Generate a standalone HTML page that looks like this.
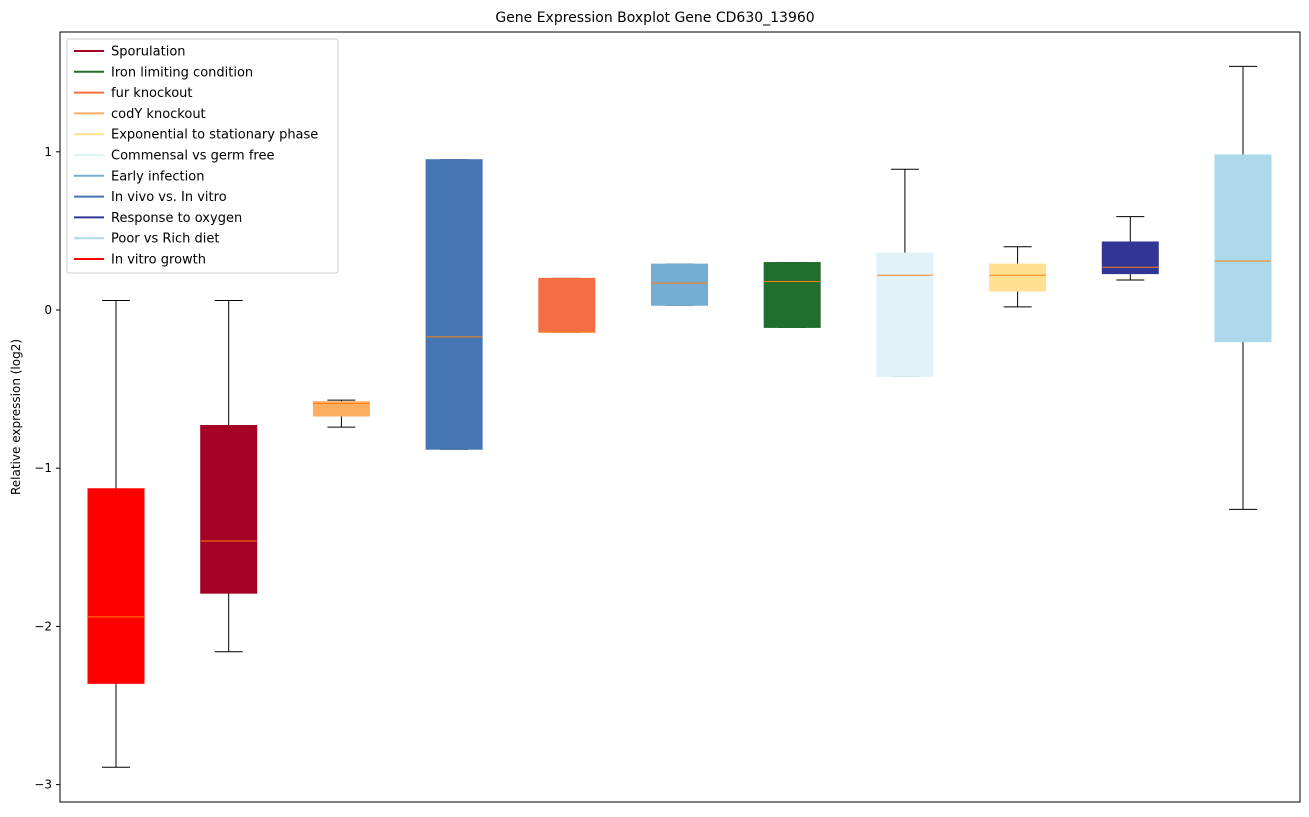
<!DOCTYPE html>
<html><head><meta charset="utf-8"><style>
body{margin:0;background:#fff;font-family:"Liberation Sans","DejaVu Sans",sans-serif}
svg text{font-family:"DejaVu Sans","Liberation Sans",sans-serif}
</style></head><body>
<svg id="c" width="1309" height="812" xmlns="http://www.w3.org/2000/svg"></svg>
<script>
const categories=["In vitro growth","Sporulation","codY knockout","In vivo vs. In vitro","fur knockout","Early infection","Iron limiting condition","Commensal vs germ free","Exponential to stationary phase","Response to oxygen","Poor vs Rich diet"];
const colors=["#ff0000","#a50026","#fdae61","#4575b4","#f46d43","#74add1","#226e2e","#e0f3f8","#fee090","#313695","#abd9e9"];
const whiskerLow=[-2.89,-2.16,-0.74,-0.88,-0.14,0.03,-0.11,-0.42,0.02,0.19,-1.26];
const q1=[-2.36,-1.79,-0.67,-0.88,-0.14,0.03,-0.11,-0.42,0.12,0.23,-0.20];
const medians=[-1.94,-1.46,-0.59,-0.17,-0.14,0.17,0.18,0.22,0.22,0.27,0.31];
const q3=[-1.13,-0.73,-0.58,0.95,0.20,0.29,0.30,0.36,0.29,0.43,0.98];
const whiskerHigh=[0.06,0.06,-0.57,0.95,0.20,0.29,0.30,0.89,0.40,0.59,1.54];
const yTicks=[1,0,-1,-2,-3];
const legendLabels=["Sporulation","Iron limiting condition","fur knockout","codY knockout","Exponential to stationary phase","Commensal vs germ free","Early infection","In vivo vs. In vitro","Response to oxygen","Poor vs Rich diet","In vitro growth"];
const legendColors=["#a50026","#226e2e","#f46d43","#fdae61","#fee090","#e0f3f8","#74add1","#4575b4","#313695","#abd9e9","#ff0000"];
const NS="http://www.w3.org/2000/svg",svg=document.getElementById('c');
const L=60,R=1300,T=32,B=802;
const y=v=>310-v*158.2;
const x=i=>116+i*112.7;
function mk(t,a,p){const e=document.createElementNS(NS,t);for(const k in a)e.setAttribute(k,a[k]);(p||svg).appendChild(e);return e;}
const t=mk('text',{x:655,y:22,'text-anchor':'middle','font-size':14});t.textContent="Gene Expression Boxplot Gene CD630_13960";

const yl=mk('text',{transform:'translate(20,417) rotate(-90)','text-anchor':'middle','font-size':12});yl.textContent="Relative expression (log2)";

yTicks.forEach(v=>{const g=mk('g',{});
mk('line',{x1:L-4,x2:L,y1:y(v),y2:y(v),stroke:'#000'},g);
const tx=mk('text',{x:L-8,y:y(v)+4,'text-anchor':'end','font-size':12},g);tx.textContent=v<0?'\u2212'+(-v):String(v);});
categories.forEach((c,i)=>{const g=mk('g',{});
const cx=x(i),w=28;
mk('line',{x1:cx,x2:cx,y1:y(whiskerLow[i]),y2:y(q1[i]),stroke:'#000'},g);
mk('line',{x1:cx,x2:cx,y1:y(q3[i]),y2:y(whiskerHigh[i]),stroke:'#000'},g);
mk('line',{x1:cx-14,x2:cx+14,y1:y(whiskerLow[i]),y2:y(whiskerLow[i]),stroke:'#000'},g);
mk('line',{x1:cx-14,x2:cx+14,y1:y(whiskerHigh[i]),y2:y(whiskerHigh[i]),stroke:'#000'},g);
mk('rect',{x:cx-w,y:y(q3[i]),width:2*w,height:Math.max(1,y(q1[i])-y(q3[i])),fill:colors[i],stroke:colors[i]},g);
mk('line',{x1:cx-w,x2:cx+w,y1:y(medians[i]),y2:y(medians[i]),stroke:'#ff7f0e','stroke-width':1},g);});
mk('rect',{x:L,y:T,width:R-L,height:B-T,fill:'none',stroke:'#000'});
const lg=mk('g',{});
mk('rect',{x:67,y:39,width:271,height:234,fill:'#fff','fill-opacity':0.8,stroke:'#ccc',rx:2},lg);
legendLabels.forEach((l,i)=>{const g=mk('g',{},lg);
const yy=51+i*20.8;mk('line',{x1:74,x2:104,y1:yy,y2:yy,stroke:legendColors[i],'stroke-width':2},g);
const tx=mk('text',{x:111,y:yy+4.5,'font-size':13},g);tx.textContent=l;});
</script></body></html>
